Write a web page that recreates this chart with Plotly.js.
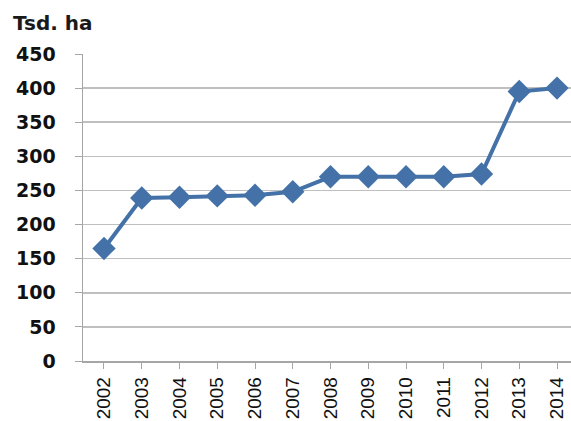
<!DOCTYPE html>
<html>
<head>
<meta charset="utf-8">
<script src="https://cdn.plot.ly/plotly-3.0.1.min.js"></script>
<style>html,body{margin:0;padding:0;background:#fff;}#chart{width:571px;height:421px;}</style>
</head>
<body>
<div id="chart"></div>
<script>
const years = ["2002","2003","2004","2005","2006","2007","2008","2009","2010","2011","2012","2013","2014"];
const area = [165, 239, 240, 242, 243, 248, 270, 270, 270, 270, 274, 395, 400];
const yTicks = [0, 50, 100, 150, 200, 250, 300, 350, 400, 450];
const yLabel = "Tsd. ha";

const trace = {
  x: years,
  y: area,
  type: "scatter",
  mode: "lines+markers",
  line: {color: "#4472A8", width: 4},
  marker: {symbol: "diamond", size: 18, color: "#4472A8"},
  hoverinfo: "x+y"
};

const layout = {
  width: 571,
  height: 421,
  margin: {l: 83, r: 0, t: 54, b: 60},
  paper_bgcolor: "#fff",
  plot_bgcolor: "#fff",
  showlegend: false,
  annotations: [{
    text: "<b>" + yLabel + "</b>",
    xref: "paper", yref: "paper",
    x: -0.147, y: 1.0, yshift: 31,
    xanchor: "left", yanchor: "middle",
    showarrow: false,
    font: {family: "DejaVu Sans, Verdana, sans-serif", size: 20, color: "#1a1a1a"}
  }],
  xaxis: {
    type: "category",
    range: [-0.556, 12.37],
    tickangle: -90,
    ticks: "outside",
    ticklen: 6,
    tickcolor: "#a6a6a6",
    showline: true,
    linecolor: "#a6a6a6",
    linewidth: 1.5,
    showgrid: false,
    ticklabelstandoff: 1,
    tickfont: {family: "Liberation Sans, Arial, sans-serif", size: 19, color: "#111"}
  },
  yaxis: {
    range: [0, 450],
    tickvals: yTicks,
    ticktext: yTicks.map(v => "<b>" + v + "</b>"),
    ticks: "outside",
    ticklen: 7,
    tickcolor: "#a6a6a6",
    showline: true,
    linecolor: "#a6a6a6",
    linewidth: 1.5,
    gridcolor: "#bfbfbf",
    gridwidth: 1.5,
    zeroline: false,
    ticklabelstandoff: 15,
    tickfont: {family: "DejaVu Sans, Verdana, sans-serif", size: 19, color: "#111"}
  }
};

Plotly.newPlot("chart", [trace], layout, {displayModeBar: false, staticPlot: true});
</script>
</body>
</html>
